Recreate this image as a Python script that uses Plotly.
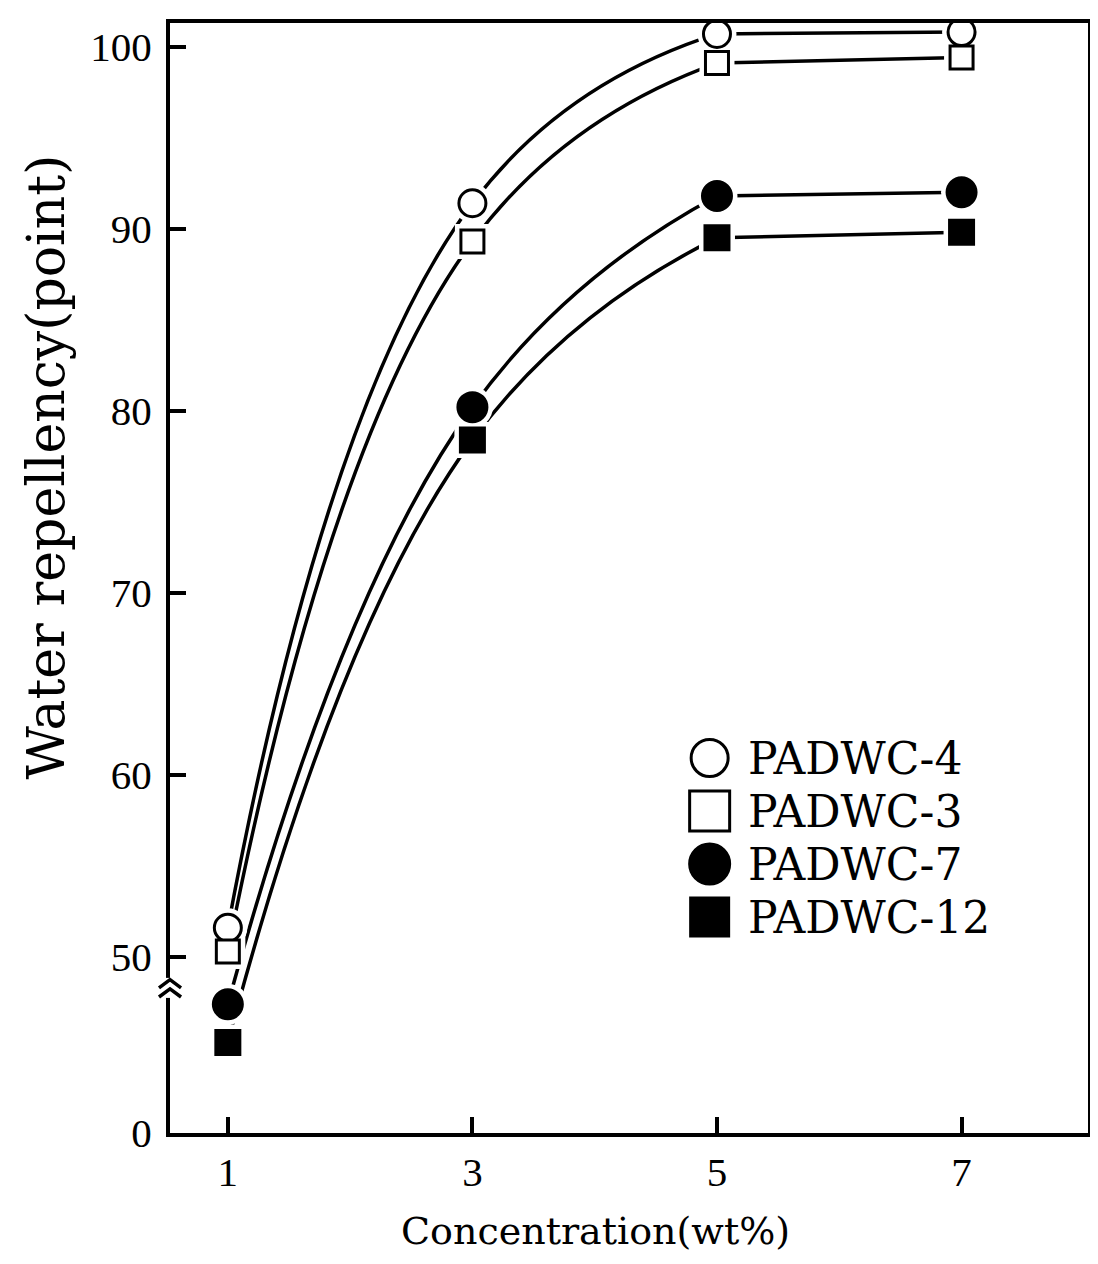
import plotly.graph_objects as go

# ---------------- data ----------------
concentration = [1, 3, 5, 7]
series_names = ["PADWC-4", "PADWC-3", "PADWC-7", "PADWC-12"]
padwc4 = [51.6, 91.4, 100.7, 100.8]
padwc3 = [50.3, 89.3, 99.1, 99.4]
padwc7 = [47.4, 80.2, 91.8, 92.0]
padwc12 = [45.3, 78.4, 89.5, 89.8]
x_tick_vals = [1, 3, 5, 7]
x_tick_text = ["1", "3", "5", "7"]
y_tick_vals = [40.33, 50, 60, 70, 80, 90, 100]   # broken axis: "0" drawn at bottom
y_tick_text = ["0", "50", "60", "70", "80", "90", "100"]

series_values = [padwc4, padwc3, padwc7, padwc12]

# ---------------- styles ----------------
symbols = ["circle", "square", "circle", "square"]
fills = ["white", "white", "black", "black"]
sizes = [27, 23, 29, 24]
legend_sizes = [37, 40, 40, 38]

SERIF = "Liberation Serif, Times New Roman, serif"
WIDE_SERIF = "DejaVu Serif, serif"

fig = go.Figure()

# curves: smooth rise to 5 wt%, then flat to 7 wt%
for vals in series_values:
    fig.add_trace(go.Scatter(x=concentration[:3], y=vals[:3], mode="lines",
                             line=dict(color="black", width=3.5, shape="spline", smoothing=1.3),
                             showlegend=False, hoverinfo="skip"))
    fig.add_trace(go.Scatter(x=concentration[2:], y=vals[2:], mode="lines",
                             line=dict(color="black", width=3.5),
                             showlegend=False, hoverinfo="skip"))

# white halos producing the gaps round the markers
for vals, sym, sz in zip(series_values, symbols, sizes):
    fig.add_trace(go.Scatter(x=concentration, y=vals, mode="markers",
                             marker=dict(symbol=sym, size=sz + 12, color="white",
                                         line=dict(width=0)),
                             showlegend=False, hoverinfo="skip"))

# markers
for name, vals, sym, fill, sz in zip(series_names, series_values, symbols, fills, sizes):
    fig.add_trace(go.Scatter(x=concentration, y=vals, mode="markers", name=name,
                             marker=dict(symbol=sym, size=sz, color=fill,
                                         line=dict(color="black", width=3)),
                             showlegend=False))

# custom legend (large symbols) on an auxiliary hidden axis pair
for i, (name, sym, fill, sz) in enumerate(zip(series_names, symbols, fills, legend_sizes)):
    fig.add_trace(go.Scatter(x=[0], y=[i], mode="markers", xaxis="x2", yaxis="y2",
                             marker=dict(symbol=sym, size=sz, color=fill,
                                         line=dict(color="black", width=3)),
                             showlegend=False, hoverinfo="skip"))
    fig.add_annotation(x=0, y=i, xref="x2", yref="y2", text=name, showarrow=False,
                       xanchor="left", yanchor="middle", xshift=36,
                       font=dict(family=WIDE_SERIF, size=44, color="black"))

axis_common = dict(showline=True, linecolor="black", linewidth=4, mirror=True,
                   ticks="inside", ticklen=16, tickwidth=4, tickcolor="black",
                   showgrid=False, zeroline=False,
                   tickfont=dict(family=SERIF, size=41, color="black"))

# page body has an 8px margin: figure is sized/placed to compensate
fig.update_layout(
    width=1090, height=1248,
    margin=dict(l=162, r=6, t=15, b=123),
    paper_bgcolor="white", plot_bgcolor="white",
    showlegend=False,
    xaxis=dict(range=[0.527, 8.034], tickvals=x_tick_vals, ticktext=x_tick_text,
               ticklabelstandoff=0, **axis_common),
    yaxis=dict(range=[40.33, 101.3], tickvals=y_tick_vals, ticktext=y_tick_text,
               ticklabelstandoff=6, **axis_common),
    xaxis2=dict(domain=[0.5, 1.0], range=[-0.1757, 0.8243], visible=False,
                anchor="y2", fixedrange=True),
    yaxis2=dict(domain=[0.1707, 0.3617], range=[3.5, -0.5], visible=False,
                anchor="x2", fixedrange=True),
)

# axis titles
fig.add_annotation(text="Concentration(wt%)", xref="paper", yref="paper",
                   x=0.463, y=-0.088, showarrow=False, xanchor="center", yanchor="middle",
                   font=dict(family=WIDE_SERIF, size=38, color="black"))
fig.add_annotation(text="Water repellency(point)", xref="paper", yref="paper",
                   x=-0.1356, y=0.6, showarrow=False, textangle=-90,
                   xanchor="center", yanchor="middle",
                   font=dict(family=WIDE_SERIF, size=52, color="black"))

# axis-break mark on the y axis
fig.add_shape(type="rect", xref="paper", yref="y", x0=-0.008, x1=0.008, y0=47.75, y1=48.85,
              fillcolor="white", line=dict(width=0), layer="above")
fig.add_shape(type="path", xref="paper", yref="y",
              path="M -0.012,48.3 L 0,48.75 L 0.012,48.3",
              line=dict(color="black", width=3.5), layer="above")
fig.add_shape(type="path", xref="paper", yref="y",
              path="M -0.012,47.8 L 0,48.25 L 0.012,47.8",
              line=dict(color="black", width=3.5), layer="above")

fig.write_html("out.html")
